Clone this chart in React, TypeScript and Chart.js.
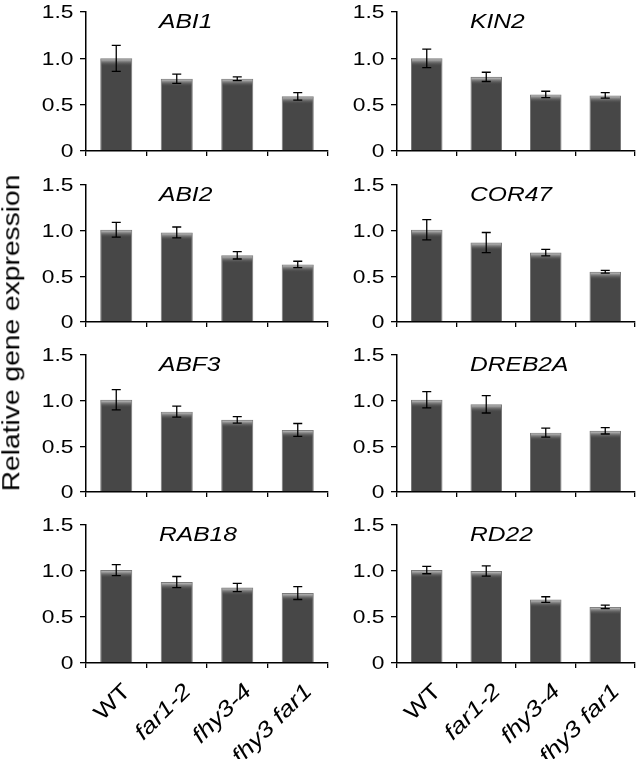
import React, { useEffect, useRef } from 'react';
import { Chart, registerables } from 'chart.js';

Chart.register(...registerables);

// ---------- data ----------
const categories = ['WT', 'far1-2', 'fhy3-4', 'fhy3 far1'];
const italicCategory = [false, true, true, true];
const yTickValues = [0, 0.5, 1.0, 1.5];
const yTickLabels = ['0', '0.5', '1.0', '1.5'];
const yAxisTitle = 'Relative gene expression';

const geneNames = ['ABI1', 'KIN2', 'ABI2', 'COR47', 'ABF3', 'DREB2A', 'RAB18', 'RD22'];

const abi1 = [1.0, 0.78, 0.78, 0.59];
const abi1Err = [0.14, 0.05, 0.02, 0.04];
const kin2 = [1.0, 0.8, 0.61, 0.6];
const kin2Err = [0.1, 0.05, 0.035, 0.03];
const abi2 = [1.01, 0.98, 0.73, 0.63];
const abi2Err = [0.08, 0.06, 0.04, 0.035];
const cor47 = [1.01, 0.87, 0.76, 0.55];
const cor47Err = [0.11, 0.11, 0.035, 0.015];
const abf3 = [1.01, 0.88, 0.79, 0.68];
const abf3Err = [0.11, 0.06, 0.035, 0.07];
const dreb2a = [1.01, 0.96, 0.65, 0.67];
const dreb2aErr = [0.09, 0.095, 0.05, 0.035];
const rab18 = [1.01, 0.88, 0.82, 0.76];
const rab18Err = [0.06, 0.06, 0.045, 0.07];
const rd22 = [1.01, 1.0, 0.69, 0.61];
const rd22Err = [0.04, 0.055, 0.03, 0.02];

const geneValues = [abi1, kin2, abi2, cor47, abf3, dreb2a, rab18, rd22];
const geneErrors = [abi1Err, kin2Err, abi2Err, cor47Err, abf3Err, dreb2aErr, rab18Err, rd22Err];

// ---------- layout ----------
const PAGE_W = 643;
const PAGE_H = 759;
const COLS = [
  { axisLeft: 86, axisRight: 328, canvasLeft: 20, canvasRight: 333 },
  { axisLeft: 397, axisRight: 635, canvasLeft: 330, canvasRight: 640 },
];
const ROWS = [
  { top: 12, bottom: 151 },
  { top: 185, bottom: 322 },
  { top: 355, bottom: 492 },
  { top: 525, bottom: 663 },
];
const PAD_TOP = 10;
const FONT = '"Liberation Sans", Arial, Helvetica, sans-serif';
const STRETCH = 1.2;

function stretchedText(
  ctx: CanvasRenderingContext2D,
  text: string,
  x: number,
  y: number,
  font: string,
  align: CanvasTextAlign,
  angle = 0
) {
  ctx.save();
  ctx.translate(x, y);
  if (angle) ctx.rotate(angle);
  ctx.scale(STRETCH, 1);
  ctx.font = font;
  ctx.fillStyle = '#000';
  ctx.textAlign = align;
  ctx.textBaseline = 'middle';
  ctx.fillText(text, 0, 0);
  ctx.restore();
}

function Panel({ index, showX }: { index: number; showX: boolean }) {
  const ref = useRef<HTMLCanvasElement>(null);
  const col = COLS[index % 2];
  const row = ROWS[Math.floor(index / 2)];
  const xAxisH = showX ? PAGE_H - row.bottom : 10;
  const width = col.canvasRight - col.canvasLeft;
  const height = PAD_TOP + (row.bottom - row.top) + xAxisH;
  const top = row.top - PAD_TOP;

  useEffect(() => {
    const values = geneValues[index];
    const errors = geneErrors[index];
    const gene = geneNames[index];

    const decor = {
      id: 'decor',
      afterDatasetsDraw(chart: any) {
        const ctx: CanvasRenderingContext2D = chart.ctx;
        const meta = chart.getDatasetMeta(0);
        const ys = chart.scales.y;
        meta.data.forEach((el: any, i: number) => {
          const p = el.getProps(['x', 'y', 'width', 'base'], true);
          const left = p.x - p.width / 2 + 1;
          const w = p.width - 2;
          const g = ctx.createLinearGradient(0, p.y + 1, 0, p.y + 8);
          g.addColorStop(0, 'rgba(190,190,190,1)');
          g.addColorStop(1, 'rgba(71,71,71,0)');
          ctx.save();
          ctx.fillStyle = g;
          ctx.fillRect(left, p.y + 1, w, 7);
          ctx.restore();

          const v = values[i];
          const e = errors[i];
          const yTop = ys.getPixelForValue(v + e);
          const yBot = ys.getPixelForValue(v - e);
          ctx.save();
          ctx.strokeStyle = '#000';
          ctx.lineWidth = 1.3;
          ctx.beginPath();
          ctx.moveTo(p.x, yTop);
          ctx.lineTo(p.x, yBot);
          ctx.moveTo(p.x - 4.5, yTop);
          ctx.lineTo(p.x + 4.5, yTop);
          ctx.moveTo(p.x - 4.5, yBot);
          ctx.lineTo(p.x + 4.5, yBot);
          ctx.stroke();
          ctx.restore();
        });
      },
      afterDraw(chart: any) {
        const ctx: CanvasRenderingContext2D = chart.ctx;
        const ys = chart.scales.y;
        const xs = chart.scales.x;
        const area = chart.chartArea;
        // y tick labels
        yTickValues.forEach((v, i) => {
          stretchedText(ctx, yTickLabels[i], area.left - 12.5, ys.getPixelForValue(v) + 1, `19px ${FONT}`, 'right');
        });
        // gene title
        stretchedText(ctx, gene, area.left + 73, area.top + 10.5, `italic 20.5px ${FONT}`, 'left');
        // x labels
        if (showX) {
          categories.forEach((c, i) => {
            const x = xs.getPixelForValue(i) + 11;
            const y = xs.top + 25;
            const f = `${italicCategory[i] ? 'italic ' : ''}22px ${FONT}`;
            stretchedText(ctx, c, x, y, f, 'right', -Math.PI / 4);
          });
        }
      },
    };

    const chart = new Chart(ref.current as HTMLCanvasElement, {
      type: 'bar',
      data: {
        labels: categories,
        datasets: [
          {
            data: values,
            backgroundColor: '#474747',
            borderColor: '#7a7a7a',
            borderWidth: 1,
            categoryPercentage: 1,
            barPercentage: 0.53,
          },
        ],
      },
      options: {
        responsive: false,
        maintainAspectRatio: false,
        animation: false,
        devicePixelRatio: 1,
        layout: {
          padding: { top: PAD_TOP, right: col.canvasRight - col.axisRight, left: 0, bottom: 0 },
        },
        plugins: {
          legend: { display: false },
          tooltip: { enabled: false },
          title: { display: false },
        },
        scales: {
          x: {
            type: 'category',
            offset: true,
            grid: {
              display: true,
              offset: true,
              drawOnChartArea: false,
              drawTicks: true,
              tickLength: 5,
              color: '#000',
              lineWidth: 1.3,
            },
            border: { display: true, color: '#000', width: 1.5 },
            ticks: { display: false },
            afterFit: (s: any) => {
              s.height = xAxisH;
            },
          },
          y: {
            min: 0,
            max: 1.5,
            ticks: { display: false, stepSize: 0.5 },
            grid: {
              display: true,
              drawOnChartArea: false,
              drawTicks: true,
              tickLength: 6,
              color: '#000',
              lineWidth: 1.3,
            },
            border: { display: true, color: '#000', width: 1.5 },
            afterFit: (s: any) => {
              s.width = col.axisLeft - col.canvasLeft;
            },
          },
        },
      } as any,
      plugins: [decor],
    });
    return () => chart.destroy();
  }, []);

  return (
    <canvas
      ref={ref}
      width={width}
      height={height}
      style={{ position: 'absolute', left: col.canvasLeft, top, width, height }}
    />
  );
}

export default function App() {
  return (
    <div
      style={{
        position: 'absolute',
        left: 0,
        top: 0,
        width: PAGE_W,
        height: PAGE_H,
        background: '#fff',
        overflow: 'hidden',
      }}
    >
      {geneNames.map((g, i) => (
        <Panel key={g} index={i} showX={i >= 6} />
      ))}
      <div
        style={{
          position: 'absolute',
          left: 12,
          top: 333,
          fontFamily: FONT,
          fontSize: '23.5px',
          lineHeight: 1,
          whiteSpace: 'nowrap',
          color: '#000',
          transform: `translate(-50%, -50%) rotate(-90deg) scaleX(${STRETCH})`,
        }}
      >
        {yAxisTitle}
      </div>
    </div>
  );
}
